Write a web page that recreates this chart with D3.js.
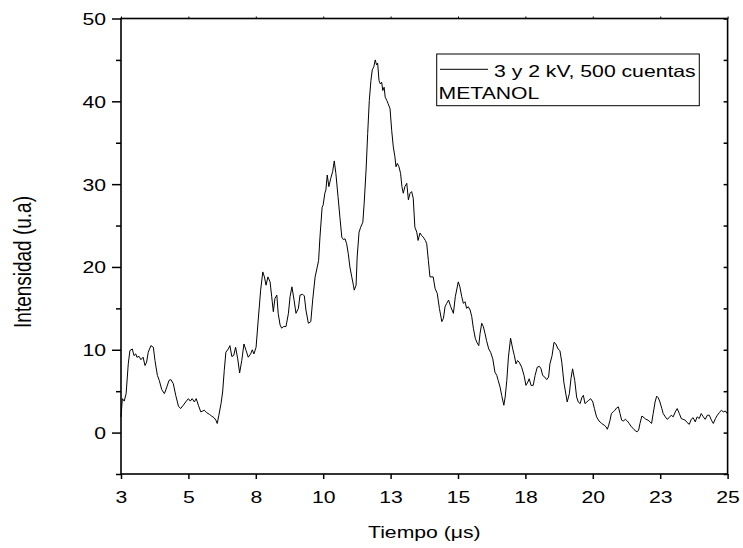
<!DOCTYPE html>
<html>
<head>
<meta charset="utf-8">
<script src="https://cdn.jsdelivr.net/npm/d3@7"></script>
<style>
  html, body { margin: 0; padding: 0; background: #fff; }
  svg { display: block; }
  text { font-family: "Liberation Sans", Arial, sans-serif; fill: #000; }
</style>
</head>
<body>
<svg id="chart" width="743" height="548"></svg>
<script>
// Time axis (µs) and measured intensity (u.a)
const timeUs = [
  2.50, 2.55, 2.62, 2.69, 2.77, 2.83, 2.92, 2.98, 3.05, 3.09, 3.17, 3.24, 3.32, 3.39, 3.45, 3.51,
  3.61, 3.70, 3.76, 3.85, 3.92, 4.01, 4.11, 4.20, 4.28, 4.35, 4.44, 4.53, 4.63, 4.71, 4.81, 4.90,
  5.00, 5.07, 5.14, 5.22, 5.29, 5.37, 5.46, 5.53, 5.59, 5.68, 5.78, 5.86, 5.95, 6.02, 6.07, 6.13,
  6.21, 6.27, 6.33, 6.39, 6.48, 6.54, 6.61, 6.68, 6.75, 6.83, 6.90, 6.98, 7.06, 7.14, 7.22, 7.31,
  7.37, 7.43, 7.51, 7.59, 7.68, 7.76, 7.82, 7.88, 7.95, 8.03, 8.09, 8.15, 8.21, 8.28, 8.33, 8.40,
  8.46, 8.52, 8.62, 8.71, 8.77, 8.84, 8.92, 8.99, 9.08, 9.14, 9.24, 9.30, 9.36, 9.45, 9.54, 9.61,
  9.70, 9.78, 9.83, 9.88, 9.96, 10.00, 10.06, 10.10, 10.15, 10.21, 10.28, 10.35, 10.41, 10.47, 10.55, 10.62,
  10.69, 10.75, 10.81, 10.87, 10.93, 10.99, 11.06, 11.12, 11.15, 11.22, 11.26, 11.33, 11.39, 11.47, 11.52, 11.59,
  11.65, 11.71, 11.77, 11.82, 11.88, 11.93, 11.98, 12.02, 12.07, 12.12, 12.17, 12.21, 12.26, 12.30, 12.36, 12.41,
  12.48, 12.54, 12.60, 12.66, 12.70, 12.75, 12.81, 12.87, 12.92, 12.97, 13.03, 13.10, 13.16, 13.22, 13.28, 13.34,
  13.40, 13.47, 13.52, 13.59, 13.65, 13.71, 13.79, 13.84, 13.90, 13.96, 14.08, 14.15, 14.23, 14.31, 14.40, 14.46,
  14.52, 14.58, 14.65, 14.73, 14.83, 14.90, 15.01, 15.07, 15.14, 15.20, 15.26, 15.32, 15.38, 15.45, 15.51, 15.57,
  15.64, 15.70, 15.77, 15.82, 15.88, 15.94, 16.00, 16.06, 16.14, 16.21, 16.29, 16.37, 16.44, 16.49, 16.56, 16.62,
  16.70, 16.75, 16.81, 16.87, 16.95, 17.03, 17.09, 17.15, 17.21, 17.27, 17.36, 17.45, 17.52, 17.59, 17.64, 17.71,
  17.79, 17.86, 17.94, 18.02, 18.08, 18.14, 18.22, 18.29, 18.36, 18.41, 18.49, 18.56, 18.63, 18.71, 18.78, 18.85,
  18.93, 19.05, 19.13, 19.19, 19.25, 19.33, 19.40, 19.46, 19.53, 19.59, 19.65, 19.71, 19.78, 19.85, 19.92, 20.00,
  20.06, 20.14, 20.23, 20.33, 20.42, 20.49, 20.54, 20.59, 20.64, 20.69, 20.76, 20.82, 20.89, 20.95, 21.01, 21.07,
  21.13, 21.21, 21.28, 21.35, 21.43, 21.50, 21.58, 21.65, 21.70, 21.75, 21.82, 21.90, 21.97, 22.05, 22.12, 22.18,
  22.24, 22.31, 22.37, 22.43, 22.49, 22.56, 22.61, 22.69, 22.76, 22.83, 22.91, 22.98, 23.06, 23.13, 23.21, 23.28,
  23.35, 23.43, 23.50, 23.58, 23.65, 23.72, 23.80, 23.87, 23.95, 24.02, 24.10, 24.17, 24.25, 24.32, 24.40, 24.47,
  24.55, 24.62, 24.69, 24.77, 24.84, 24.92, 24.98
];
const intensity = [
  1.9, 4.1, 3.8, 4.7, 8.3, 9.9, 10.1, 9.3, 9.5, 9.1, 9.2, 8.8, 9.1, 8.1, 8.5, 9.7,
  10.5, 10.3, 8.7, 6.9, 6.3, 5.2, 4.7, 5.5, 6.3, 6.4, 5.9, 4.5, 3.2, 2.9, 3.3, 3.7,
  4.1, 3.8, 4.1, 3.7, 4.1, 3.3, 2.5, 2.6, 2.7, 2.4, 2.2, 2.0, 1.8, 1.5, 1.1, 2.1,
  3.5, 4.9, 7.5, 9.7, 10.1, 10.5, 9.2, 9.3, 10.3, 8.9, 7.2, 8.7, 10.7, 9.9, 9.1, 9.5,
  10.0, 9.5, 10.3, 13.6, 17.2, 19.4, 18.8, 17.8, 18.8, 18.2, 16.4, 14.6, 16.2, 16.6, 14.4, 13.0,
  12.6, 12.8, 12.8, 14.4, 16.4, 17.6, 16.0, 14.4, 15.0, 16.6, 16.7, 16.5, 14.8, 13.2, 13.4, 16.0,
  18.8, 20.0, 20.8, 23.6, 27.2, 27.5, 28.9, 29.3, 31.1, 29.7, 30.7, 31.5, 32.8, 31.3, 28.5, 26.0,
  23.6, 23.3, 23.4, 22.8, 21.6, 20.0, 18.8, 17.8, 17.2, 17.8, 21.2, 24.2, 24.8, 25.4, 27.7, 31.7,
  36.1, 40.1, 42.5, 43.8, 44.2, 45.0, 44.4, 44.6, 42.5, 42.1, 42.3, 41.3, 41.7, 40.5, 40.1, 39.7,
  39.1, 36.5, 34.5, 33.3, 32.1, 32.5, 32.1, 31.3, 29.7, 28.9, 29.7, 30.1, 28.1, 28.9, 29.1, 28.3,
  24.8, 24.2, 23.2, 24.1, 23.8, 23.6, 23.2, 22.8, 20.8, 18.8, 18.8, 17.4, 16.8, 15.0, 13.4, 13.8,
  15.2, 15.6, 16.0, 15.2, 14.4, 16.4, 18.2, 17.6, 16.4, 15.6, 15.8, 15.0, 15.2, 14.8, 14.0, 12.6,
  11.4, 10.9, 10.5, 12.0, 13.2, 12.8, 12.0, 11.1, 10.1, 9.7, 8.9, 7.3, 6.9, 6.3, 5.5, 4.5,
  3.3, 4.3, 6.3, 9.1, 11.4, 10.1, 9.3, 8.3, 8.7, 8.5, 7.9, 6.9, 5.7, 6.1, 6.5, 5.7,
  5.7, 6.9, 7.9, 8.0, 7.7, 6.9, 6.7, 6.4, 6.7, 8.3, 9.3, 10.9, 10.7, 10.1, 9.9, 8.5,
  6.0, 3.7, 4.7, 6.5, 7.7, 6.3, 4.3, 3.7, 3.5, 4.2, 4.5, 3.5, 3.7, 3.9, 4.1, 3.7,
  2.9, 1.9, 1.4, 1.1, 0.9, 0.7, 0.4, 0.9, 1.5, 2.3, 2.5, 2.7, 3.0, 3.1, 2.3, 1.5,
  1.4, 1.6, 1.4, 1.1, 0.7, 0.5, 0.2, 0.1, 0.3, 1.1, 2.0, 1.8, 1.6, 1.5, 1.3, 1.1,
  2.3, 3.7, 4.4, 4.2, 3.7, 2.9, 2.3, 1.9, 1.6, 1.8, 2.1, 1.9, 2.5, 2.9, 2.3, 1.7,
  1.6, 1.5, 1.2, 1.0, 1.6, 1.8, 1.3, 1.9, 1.7, 2.3, 1.9, 1.6, 2.1, 2.1, 1.5, 1.1,
  1.7, 2.1, 2.4, 2.7, 2.5, 2.6, 2.3
];

// Axis ticks
const xTickValues = [2.5, 5, 7.5, 10, 12.5, 15, 17.5, 20, 22.5, 25];
const xTickLabels = ["3", "5", "8", "10", "13", "15", "18", "20", "23", "25"];
const yMajorTicks = [0, 10, 20, 30, 40, 50];
const yMinorTicks = [-5, 5, 15, 25, 35, 45];
const yAllTicks = [-5, 0, 5, 10, 15, 20, 25, 30, 35, 40, 45, 50];

const xTitle = "Tiempo (\u03bcs)";
const yTitle = "Intensidad (u.a)";
const legendLabel = "3 y 2 kV, 500 cuentas";
const legendNote = "METANOL";

// Layout
const W = 743, H = 548;
const plot = { left: 121, right: 727.6, top: 18.5, bottom: 474 };
const SX = 1.3;           // horizontal glyph stretch
const FONT = 16.3;

const svg = d3.select("#chart");
svg.append("rect").attr("width", W).attr("height", H).attr("fill", "#fff");

const x = d3.scaleLinear().domain([2.5, 25]).range([plot.left, plot.right]);
const y = d3.scaleLinear().domain([-5, 50]).range([plot.bottom, plot.top]);

// Data trace
const series = timeUs.map((t, i) => ({ t, v: intensity[i] }));
svg.append("path")
  .datum(series)
  .attr("fill", "none")
  .attr("stroke", "#000")
  .attr("stroke-width", 1)
  .attr("stroke-linejoin", "round")
  .attr("d", d3.line().x(d => x(d.t)).y(d => y(d.v)));

function plainAxis(g) {
  g.select(".domain").remove();
  g.selectAll(".tick line").attr("stroke", "#000").attr("stroke-width", 1.5);
}

// Bottom axis with labels
const gx = svg.append("g")
  .attr("transform", `translate(0,${plot.bottom})`)
  .call(d3.axisBottom(x).tickValues(xTickValues).tickSize(5).tickSizeOuter(0)
    .tickFormat((d, i) => xTickLabels[i]));
plainAxis(gx);
gx.selectAll(".tick text")
  .attr("x", null).attr("y", null).attr("dy", null)
  .attr("transform", `translate(0,29.3) scale(${SX},1)`)
  .attr("font-size", FONT)
  .attr("font-family", "Liberation Sans, Arial, sans-serif");

// Top axis: tiny marks only
const gt = svg.append("g")
  .attr("transform", `translate(0,${plot.top})`)
  .call(d3.axisTop(x).tickValues(xTickValues).tickSize(2).tickSizeOuter(0).tickFormat(""));
plainAxis(gt);
gt.selectAll(".tick line").attr("stroke-width", 1);

// Left axis, major with labels
const gy = svg.append("g")
  .attr("transform", `translate(${plot.left},0)`)
  .call(d3.axisLeft(y).tickValues(yMajorTicks).tickSize(9).tickSizeOuter(0)
    .tickFormat(d3.format("d")));
plainAxis(gy);
gy.selectAll(".tick text")
  .attr("x", null).attr("dy", "0.36em")
  .attr("transform", `translate(-15,0) scale(${SX},1)`)
  .attr("font-size", FONT)
  .attr("font-family", "Liberation Sans, Arial, sans-serif");

// Left axis, minor
const gym = svg.append("g")
  .attr("transform", `translate(${plot.left},0)`)
  .call(d3.axisLeft(y).tickValues(yMinorTicks).tickSize(5).tickSizeOuter(0).tickFormat(""));
plainAxis(gym);

// Right axis: inward marks
const gr = svg.append("g")
  .attr("transform", `translate(${plot.right},0)`)
  .call(d3.axisLeft(y).tickValues(yAllTicks).tickSize(4).tickSizeOuter(0).tickFormat(""));
plainAxis(gr);

// Frame
svg.append("rect")
  .attr("x", plot.left).attr("y", plot.top)
  .attr("width", plot.right - plot.left).attr("height", plot.bottom - plot.top)
  .attr("fill", "none").attr("stroke", "#000").attr("stroke-width", 1.6);

// Axis titles
svg.append("text")
  .attr("text-anchor", "middle")
  .attr("font-size", FONT)
  .attr("transform", `translate(${(plot.left + plot.right) / 2},537.5) scale(${SX},1)`)
  .text(xTitle);

svg.append("text")
  .attr("text-anchor", "middle")
  .attr("font-size", 19)
  .attr("transform", `translate(31,262) scale(${SX},1) rotate(-90)`)
  .text(yTitle);

// Legend
const leg = { x0: 436.7, x1: 699.3, y0: 54, y1: 105.7 };
svg.append("rect")
  .attr("x", leg.x0).attr("y", leg.y0)
  .attr("width", leg.x1 - leg.x0).attr("height", leg.y1 - leg.y0)
  .attr("fill", "#fff").attr("stroke", "#000").attr("stroke-width", 1);
svg.append("line")
  .attr("x1", 440).attr("x2", 488).attr("y1", 69.3).attr("y2", 69.3)
  .attr("stroke", "#000").attr("stroke-width", 1);
svg.append("text")
  .attr("font-size", FONT)
  .attr("transform", `translate(494,76.7) scale(${SX},1)`)
  .text(legendLabel);
svg.append("text")
  .attr("font-size", FONT)
  .attr("transform", `translate(438.5,98.5) scale(${SX},1)`)
  .text(legendNote);
</script>
</body>
</html>
